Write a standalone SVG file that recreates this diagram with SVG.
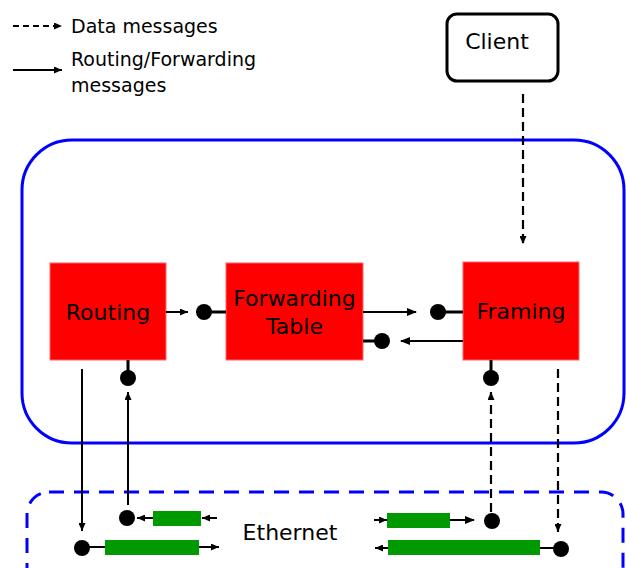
<svg xmlns="http://www.w3.org/2000/svg" width="626" height="568" viewBox="0 0 626 568">
<style>
text{font-family:"DejaVu Sans","Liberation Sans",sans-serif;fill:#000}
.lbl{font-size:22px;text-anchor:middle}
.leg{font-size:19px}
.blk{fill:#ff0000;stroke:#ff6666;stroke-width:1}
.grn{fill:#009900}
.ln{stroke:#000;stroke-width:2;fill:none}
.thk{stroke:#000;stroke-width:3;fill:none}
.dsh{stroke:#000;stroke-width:2.2;fill:none;stroke-dasharray:9,5}
.dot{fill:#000}
</style>
<defs>
<marker id="ah" markerWidth="10" markerHeight="8" refX="9" refY="4" orient="auto" markerUnits="userSpaceOnUse">
<path d="M0,0 L10,4 L0,8 Z" fill="#000"/>
</marker>
<marker id="ahs" markerWidth="8" markerHeight="7" refX="8" refY="3.5" orient="auto" markerUnits="userSpaceOnUse">
<path d="M0,0 L8,3.5 L0,7 Z" fill="#000"/>
</marker>
</defs>

<g id="legend">
<line class="dsh" x1="13" y1="26" x2="62" y2="26" marker-end="url(#ahs)" style="stroke-dasharray:6,4"/>
<text class="leg" x="71" y="33">Data messages</text>
<line class="ln" x1="13" y1="70" x2="62" y2="70" marker-end="url(#ahs)"/>
<text class="leg" x="71" y="66">Routing/Forwarding</text>
<text class="leg" x="71" y="92">messages</text>
</g>

<g id="router">
<rect x="22" y="140" width="602" height="303" rx="50" ry="50" fill="none" stroke="#0000ff" stroke-width="3"/>
</g>
<g id="ethernet">
<rect x="27" y="492" width="596" height="110" rx="22" ry="22" fill="none" stroke="#0000ff" stroke-width="3" stroke-dasharray="15,10"/>
<text class="lbl" x="290" y="540">Ethernet</text>
</g>

<g id="client">
<rect x="447" y="14" width="111" height="67" rx="10" ry="10" fill="#fff" stroke="#000" stroke-width="3"/>
<text class="lbl" x="497" y="49">Client</text>
</g>

<g id="routing">
<rect class="blk" x="50" y="263" width="116" height="97"/>
<text class="lbl" x="108" y="320">Routing</text>
</g>
<g id="forwarding">
<rect class="blk" x="226" y="263" width="137" height="97"/>
<text class="lbl" x="294.5" y="306">Forwarding</text>
<text class="lbl" x="294.5" y="334">Table</text>
</g>
<g id="framing">
<rect class="blk" x="463" y="262" width="116" height="98"/>
<text class="lbl" x="521" y="319">Framing</text>
</g>

<g id="eth-buffers">
<rect class="grn" x="153" y="511" width="48" height="15"/>
<rect class="grn" x="105" y="540" width="94" height="15"/>
<rect class="grn" x="387" y="513" width="63" height="15"/>
<rect class="grn" x="388" y="540" width="152" height="15"/>
</g>

<g id="connectors">
<line class="dsh" x1="523" y1="94" x2="523" y2="244" marker-end="url(#ahs)"/>
<line class="ln" x1="166" y1="312" x2="188" y2="312" marker-end="url(#ahs)"/>
<line class="thk" x1="204" y1="312" x2="226" y2="312"/>
<circle class="dot" cx="204" cy="312" r="8"/>
<line class="ln" x1="363" y1="312" x2="416" y2="312" marker-end="url(#ah)"/>
<line class="thk" x1="438" y1="312" x2="463" y2="312"/>
<circle class="dot" cx="438" cy="312" r="8"/>
<line class="ln" x1="463" y1="341" x2="401" y2="341" marker-end="url(#ah)"/>
<line class="thk" x1="363" y1="341" x2="382" y2="341"/>
<circle class="dot" cx="382" cy="341" r="8"/>
<line class="ln" x1="82" y1="369" x2="82" y2="531" marker-end="url(#ahs)"/>
<line class="thk" x1="128" y1="360" x2="128" y2="378"/>
<circle class="dot" cx="128" cy="378" r="8"/>
<line class="ln" x1="128" y1="505" x2="128" y2="392" marker-end="url(#ahs)"/>
<line class="thk" x1="491" y1="360" x2="491" y2="378"/>
<circle class="dot" cx="491" cy="378" r="8"/>
<line class="dsh" x1="491" y1="512" x2="491" y2="392" marker-end="url(#ahs)"/>
<line class="dsh" x1="558" y1="369" x2="558" y2="532" marker-end="url(#ahs)"/>
<circle class="dot" cx="127" cy="518" r="8"/>
<line class="ln" x1="153" y1="518" x2="137" y2="518" marker-end="url(#ahs)"/>
<line class="ln" x1="217" y1="518" x2="202" y2="518" marker-end="url(#ahs)"/>
<circle class="dot" cx="82" cy="548" r="8"/>
<line class="ln" x1="82" y1="547" x2="105" y2="547"/>
<line class="ln" x1="199" y1="547" x2="219" y2="547" marker-end="url(#ahs)"/>
<line class="ln" x1="374" y1="520" x2="387" y2="520" marker-end="url(#ahs)"/>
<line class="ln" x1="450" y1="520" x2="474" y2="520" marker-end="url(#ah)"/>
<circle class="dot" cx="492" cy="521" r="8"/>
<line class="ln" x1="388" y1="548" x2="375" y2="548" marker-end="url(#ahs)"/>
<line class="ln" x1="540" y1="548" x2="561" y2="548"/>
<circle class="dot" cx="561" cy="549" r="8"/>
</g>
</svg>
